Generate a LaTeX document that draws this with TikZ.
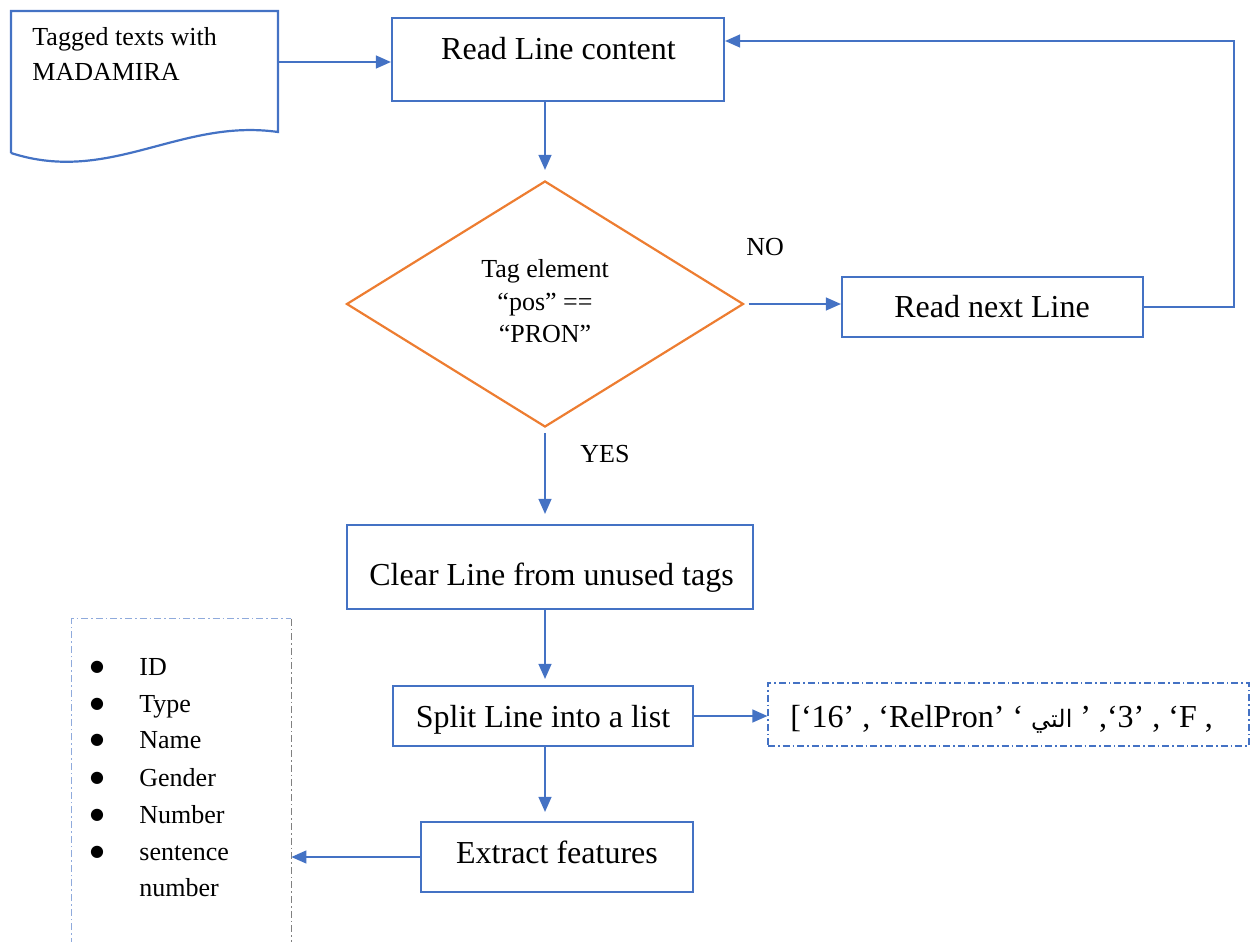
\documentclass[tikz,border=0pt]{standalone}
\usepackage{fontspec}
\setmainfont{Liberation Serif}
\newfontfamily\arabicfont[Script=Arabic]{DejaVu Sans}
\newfontfamily\symfont{DejaVu Sans}
\TeXXeTstate=1
\usetikzlibrary{arrows.meta,shapes.geometric,calc}
\definecolor{boxblue}{HTML}{4472C4}
\definecolor{listblue}{HTML}{8FAADC}
\definecolor{diaorange}{HTML}{ED7D31}

\begin{document}
\begin{tikzpicture}[x=0.5pt,y=-0.5pt,
  flowbox/.style={draw=boxblue,line width=1.1pt,rectangle,inner sep=0pt},
  dashdot/.style={dash pattern=on 3.5pt off 1.5pt on 0.8pt off 1.5pt},
  dashdotbox/.style={draw=boxblue,line width=0.6pt,rectangle,inner sep=0pt,dashdot},
  conn/.style={draw=boxblue,line width=0.6pt,-{Triangle[length=7.5pt,width=6.5pt]}},
  bigtxt/.style={font=\fontsize{16}{19}\selectfont,inner sep=0pt,anchor=base},
  smalltxt/.style={font=\fontsize{13}{16}\selectfont,inner sep=0pt,anchor=base},
  smallleft/.style={smalltxt,anchor=base west},
  bullettxt/.style={font=\symfont\fontsize{8}{9}\selectfont,inner sep=0pt,anchor=center},
]
\useasboundingbox (0,0) rectangle (1250,942);

% document shape with wavy bottom
\draw[boxblue,line width=1.1pt] (11,153) -- (11,11) -- (278,11) -- (278,132)
  .. controls (180,118) and (110,185) .. (11,153);
\coordinate (docr) at (278,62);
\node[smallleft] (doc1) at (32,46) {Tagged texts with};
\node[smallleft] (doc2) at (32,80) {MADAMIRA};

% process boxes
\node[flowbox,minimum width=166pt,minimum height=41.5pt] (read) at (558,59.5) {};
\node[bigtxt] (readt) at (558.5,60) {Read Line content};

\node[draw=diaorange,line width=1.1pt,shape=diamond,inner sep=0pt,
  minimum width=198.5pt,minimum height=123pt] (dia) at (545,304) {};
\node[smalltxt] (dia1) at (545,277) {Tag element};
\node[smalltxt] (dia2) at (545,310) {“pos” ==};
\node[smalltxt] (dia3) at (545,342) {“PRON”};

\node[flowbox,minimum width=150.5pt,minimum height=30pt] (next) at (992.5,307) {};
\node[bigtxt] (nextt) at (992,317) {Read next Line};

\node[flowbox,minimum width=203pt,minimum height=42pt] (clear) at (550,567) {};
\node[bigtxt,anchor=base west] (cleart) at (369,585) {Clear Line from unused tags};

\node[flowbox,minimum width=150pt,minimum height=30pt] (split) at (543,716) {};
\node[bigtxt] (splitt) at (543,727) {Split Line into a list};

\node[flowbox,minimum width=136pt,minimum height=35pt] (extract) at (557,857) {};
\node[bigtxt] (extractt) at (557,863) {Extract features};

% list produced by splitting
\node[dashdotbox,minimum width=240.5pt,minimum height=31.5pt] (arr) at (1008.5,714.5) {};
\node[bigtxt,anchor=base west] (arrt) at (790,727)
  {[‘16’ , ‘RelPron’ ‘ {\arabicfont\fontsize{12}{14}\selectfont\beginR التي\endR} ’ ,‘3’ , ‘F ,};

% feature list (open at the bottom)
\node[minimum width=109.5pt,minimum height=170pt,inner sep=0pt] (feat) at (181.5,789) {};
\draw[listblue,line width=0.6pt,dashdot]
  (feat.south west) -- (feat.north west) -- (feat.north east);
\draw[gray,line width=0.6pt,dashdot]
  (feat.north east) -- (feat.south east);
\foreach \y/\t/\n in {675/ID/f1,712/Type/f2,748/Name/f3,786/Gender/f4,823/Number/f5,860/sentence/f6}{
  \node[bullettxt] (b\n) at (97,\y-8) {●};
  \node[smallleft] (\n) at (139,\y) {\t};
}
\node[smallleft] (f7) at (139,896) {number};

% labels
\node[smallleft] (no) at (746,255) {NO};
\node[smallleft] (yes) at (580,462) {YES};

% connectors
\draw[conn] (docr) -- (read.west |- docr);
\draw[conn,shorten >=5pt] (read.south -| dia.north) -- (dia.north);
\draw[conn,shorten <=2pt] (dia.east) -- (next.west |- dia.east);
\coordinate (loopa) at (1234,307);
\coordinate (loopb) at (1234,41);
\draw[conn] (next.east) -- (loopa) -- (loopb) -- (read.east |- loopb);
\draw[conn,shorten <=2.5pt,shorten >=5pt] (dia.south) -- (clear.north -| dia.south);
\draw[conn,shorten >=3pt] (clear.south -| dia.south) -- (split.north -| dia.south);
\draw[conn] (split.east) -- (arr.west |- split.east);
\draw[conn,shorten >=4.5pt] (split.south -| dia.south) -- (extract.north -| dia.south);
\draw[conn] (extract.west) -- (feat.east |- extract.west);
\end{tikzpicture}
\end{document}
